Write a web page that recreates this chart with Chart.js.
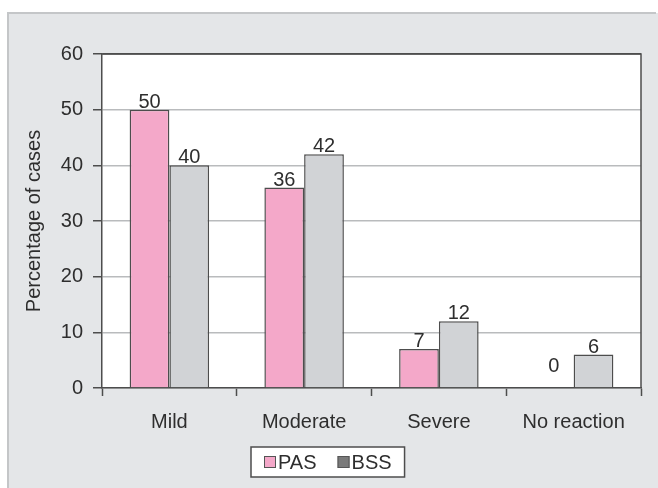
<!DOCTYPE html>
<html>
<head>
<meta charset="utf-8">
<script src="https://cdn.jsdelivr.net/npm/chart.js@4/dist/chart.umd.min.js"></script>
<style>
  body { margin: 0; background: #ffffff; }
  canvas { display: block; }
</style>
</head>
<body>
<canvas id="myChart" width="658" height="488"></canvas>
<script>
const categories = ["Mild", "Moderate", "Severe", "No reaction"];
const pas = [50, 36, 7, 0];
const bss = [40, 42, 12, 6];
const yTicks = [0, 10, 20, 30, 40, 50, 60];

const fontFamily = '"Liberation Sans", Arial, sans-serif';
const textColor = '#2e2e2e';
const darkLine = '#4d4d4d';

// grey panel behind everything, white plot area
const panelBg = {
    id: 'panelBg',
    beforeDraw(chart) {
        const ctx = chart.ctx;
        const a = chart.chartArea;
        ctx.save();
        ctx.fillStyle = '#ffffff';
        ctx.fillRect(0, 0, chart.width, chart.height);
        ctx.fillStyle = '#e4e6e8';
        ctx.fillRect(8, 13, chart.width - 8, chart.height - 13);
        ctx.strokeStyle = '#c4c6c8';
        ctx.lineWidth = 2;
        ctx.beginPath();
        ctx.moveTo(8, chart.height);
        ctx.lineTo(8, 13);
        ctx.lineTo(chart.width - 2, 13);
        ctx.stroke();
        ctx.fillStyle = '#ffffff';
        ctx.fillRect(a.left, a.top, a.right - a.left, a.bottom - a.top);
        ctx.restore();
    },
    beforeDatasetsDraw(chart) {
        const ctx = chart.ctx;
        const a = chart.chartArea;
        ctx.save();
        ctx.strokeStyle = darkLine;
        ctx.lineWidth = 1.5;
        ctx.beginPath();
        ctx.moveTo(a.left, a.top);
        ctx.lineTo(a.right, a.top);
        ctx.lineTo(a.right, a.bottom);
        ctx.stroke();
        ctx.restore();
    }
};

// value labels above each bar
const barValues = {
    id: 'barValues',
    afterDatasetsDraw(chart) {
        const ctx = chart.ctx;
        ctx.save();
        ctx.font = '20px ' + fontFamily;
        ctx.fillStyle = textColor;
        ctx.textAlign = 'center';
        ctx.textBaseline = 'alphabetic';
        chart.data.datasets.forEach((ds, i) => {
            chart.getDatasetMeta(i).data.forEach((bar, j) => {
                const v = ds.data[j];
                const y = v === 0 ? bar.y - 16 : bar.y - 2;
                ctx.fillText(String(v), bar.x, y);
            });
        });
        ctx.restore();
    }
};

// boxed legend under the axis
const boxLegend = {
    id: 'boxLegend',
    afterDraw(chart) {
        const ctx = chart.ctx;
        const sw = 12, gap = 2, itemGap = 21, pad = 13;
        ctx.save();
        ctx.font = '20px ' + fontFamily;
        const items = chart.data.datasets.map(ds => ({
            text: ds.label, color: ds.legendColor, w: ctx.measureText(ds.label).width
        }));
        let total = pad * 2 + itemGap * (items.length - 1);
        items.forEach(it => total += sw + gap + it.w);
        const top = 447, h = 30;
        let x = Math.round(chart.width / 2 - total / 2) - 1;
        ctx.fillStyle = '#ffffff';
        ctx.fillRect(x, top, total, h);
        ctx.strokeStyle = darkLine;
        ctx.lineWidth = 1.5;
        ctx.strokeRect(x, top, total, h);
        const cy = top + h / 2;
        x += pad;
        items.forEach(it => {
            ctx.fillStyle = it.color;
            ctx.fillRect(x, cy - 6, sw, sw);
            ctx.lineWidth = 1;
            ctx.strokeStyle = '#555555';
            ctx.strokeRect(x + 0.5, cy - 5.5, sw - 1, sw - 1);
            ctx.fillStyle = textColor;
            ctx.textBaseline = 'middle';
            ctx.textAlign = 'left';
            ctx.fillText(it.text, x + sw + gap, cy + 1);
            x += sw + gap + it.w + itemGap;
        });
        ctx.restore();
    }
};

const ctx = document.getElementById('myChart');
const myChart = new Chart(ctx, {
    type: 'bar',
    data: {
        labels: categories,
        datasets: [{
            label: 'PAS',
            data: pas,
            backgroundColor: '#f4a8c9',
            legendColor: '#f4a8c9',
            borderColor: darkLine,
            borderWidth: 1.5,
            barPercentage: 1.0,
            categoryPercentage: 0.59
        }, {
            label: 'BSS',
            data: bss,
            backgroundColor: '#d1d3d6',
            legendColor: '#7a7a7a',
            borderColor: darkLine,
            borderWidth: 1.5,
            barPercentage: 1.0,
            categoryPercentage: 0.59
        }]
    },
    options: {
        responsive: false,
        animation: false,
        layout: { padding: { left: 0, top: 54, right: 17, bottom: 40 } },
        plugins: {
            legend: { display: false },
            tooltip: { enabled: false }
        },
        scales: {
            x: {
                offset: true,
                grid: {
                    offset: true,
                    drawOnChartArea: false,
                    drawTicks: true,
                    tickLength: 8,
                    tickColor: darkLine,
                    tickWidth: 1.5
                },
                border: { display: true, color: darkLine, width: 1.5 },
                ticks: {
                    padding: 14,
                    color: textColor,
                    font: { family: fontFamily, size: 20 }
                },
                afterFit(scale) { scale.height = 60; }
            },
            y: {
                min: 0,
                max: 60,
                afterBuildTicks(scale) { scale.ticks = yTicks.map(v => ({ value: v })); },
                grid: {
                    color: c => c.tick && c.tick.value === 60 ? darkLine : '#b9bbbd',
                    lineWidth: 1.5,
                    tickLength: 9,
                    tickColor: darkLine,
                    tickWidth: 1.5
                },
                border: { display: true, color: darkLine, width: 1.5 },
                ticks: {
                    padding: 10,
                    color: textColor,
                    font: { family: fontFamily, size: 20 }
                },
                title: {
                    display: true,
                    text: 'Percentage of cases',
                    color: textColor,
                    font: { family: fontFamily, size: 20 },
                    padding: { top: 22, bottom: 0 }
                },
                afterFit(scale) { scale.width = 102; }
            }
        }
    },
    plugins: [panelBg, barValues, boxLegend]
});
</script>
</body>
</html>
